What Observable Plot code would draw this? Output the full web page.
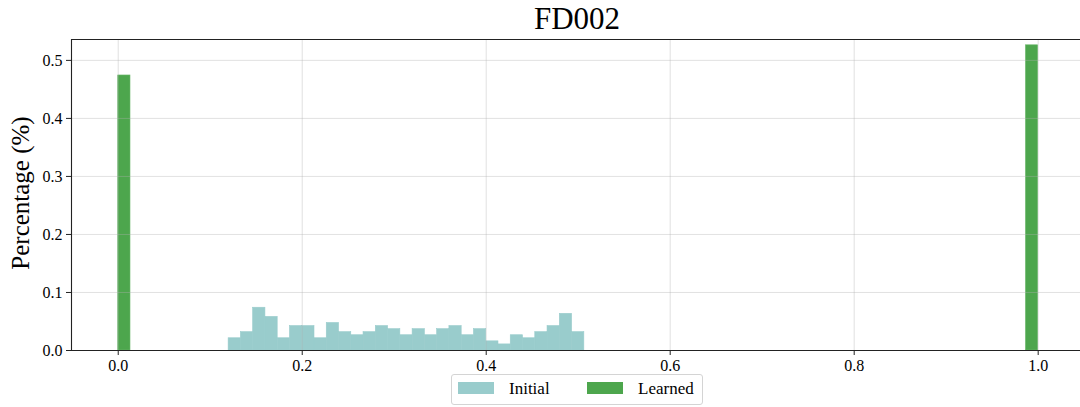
<!DOCTYPE html>
<html>
<head>
<meta charset="utf-8">
<script src="https://cdn.jsdelivr.net/npm/d3@7"></script>
<script src="https://cdn.jsdelivr.net/npm/@observablehq/plot@0.6"></script>
<style>
  body { margin: 0; background: #fff; }
  #chart { position: relative; width: 1080px; height: 407px; overflow: hidden;
           font-family: "Liberation Serif", "Times New Roman", serif; color: #000; }
  #chart svg { position: absolute; left: 0; top: 0; }
  #title { position: absolute; left: 427px; width: 300px; top: 3px; text-align: center;
           font-size: 31px; line-height: 31px; }
  #legend { position: absolute; left: 451px; top: 374px; width: 250px; height: 29px;
            border: 1px solid #d4d4d4; border-radius: 3px; background: #fff; }
  #legend .sw { position: absolute; top: 7px; width: 36px; height: 12px; }
  #legend .lb { position: absolute; top: 5px; font-size: 17px; line-height: 17px; white-space: nowrap; }
</style>
</head>
<body>
<div id="chart">
  <div id="title">FD002</div>
  <div id="legend"></div>
</div>
<script>
// Histogram bins share a common width of 1/75 on [0, 1]
const binWidth = 1 / 75;

// Initial distribution: 29 bins starting at 0.12 (share of samples per bin)
const initialStart = 0.12;
const initialShares = [
  0.0211, 0.0316, 0.0737, 0.0579, 0.0211, 0.0421, 0.0421, 0.0211, 0.0474, 0.0316,
  0.0263, 0.0316, 0.0421, 0.0368, 0.0263, 0.0368, 0.0263, 0.0368, 0.0421, 0.0263,
  0.0368, 0.0158, 0.0105, 0.0263, 0.0211, 0.0316, 0.0421, 0.0632, 0.0316
];

// Learned distribution: all mass in the first and last bins
const learnedStarts = [0, 74 / 75];
const learnedShares = [0.474, 0.526];

const seriesNames = ["Initial", "Learned"];
const seriesColors = ["#99cccc", "#4da64d"];

const xTicks = [0, 0.2, 0.4, 0.6, 0.8, 1.0];
const yTicks = [0, 0.1, 0.2, 0.3, 0.4, 0.5];
const xDomain = [-0.0508, 1.046];
const yDomain = [0, 0.536];

const initialBins = initialShares.map((s, i) => ({
  x1: initialStart + i * binWidth, x2: initialStart + (i + 1) * binWidth, share: s
}));
const learnedBins = learnedShares.map((s, i) => ({
  x1: learnedStarts[i], x2: learnedStarts[i] + binWidth, share: s
}));

const gridStyle = { stroke: "#b0b0b0", strokeOpacity: 0.42, strokeWidth: 0.9 };
const spine = { stroke: "#222", strokeWidth: 1.1 };

const chart = Plot.plot({
  width: 1080,
  height: 407,
  marginTop: 39,
  marginBottom: 57,
  marginLeft: 71,
  marginRight: 0,
  style: { fontFamily: '"Liberation Serif", "Times New Roman", serif', color: "#000", background: "transparent", overflow: "visible" },
  x: { domain: xDomain },
  y: { domain: yDomain },
  marks: [
    Plot.rectY(initialBins, { x1: "x1", x2: "x2", y: "share", fill: seriesColors[0], stroke: seriesColors[0], strokeWidth: 0.6 }),
    Plot.rectY(learnedBins, { x1: "x1", x2: "x2", y: "share", fill: seriesColors[1], stroke: "#6cb86c", strokeWidth: 0.6 }),
    Plot.gridX(xTicks, gridStyle),
    Plot.gridY(yTicks, gridStyle),
    Plot.axisX(xTicks, { tickFormat: d => d.toFixed(1), tickSize: 5, tickPadding: 4, fontSize: 16, label: null, stroke: "#222" }),
    Plot.axisY(yTicks, { tickFormat: d => d.toFixed(1), tickSize: 5, tickPadding: 4, fontSize: 16, label: null, stroke: "#222" }),
    Plot.ruleY([yDomain[0]], spine),
    Plot.ruleY([yDomain[1]], spine),
    Plot.ruleX([xDomain[0]], spine),
    Plot.text(["Percentage (%)"], { frameAnchor: "left", dx: -43, dy: -2, rotate: -90, textAnchor: "middle", lineAnchor: "bottom", fontSize: 25, fill: "#000" })
  ]
});
document.getElementById("chart").prepend(chart);

// Legend below the axis
const legend = document.getElementById("legend");
const swatchLeft = [6, 135];
const labelLeft = [57, 186];
seriesNames.forEach((name, i) => {
  const sw = document.createElement("div");
  sw.className = "sw";
  sw.style.left = swatchLeft[i] + "px";
  sw.style.background = seriesColors[i];
  const lb = document.createElement("div");
  lb.className = "lb";
  lb.style.left = labelLeft[i] + "px";
  lb.textContent = name;
  legend.append(sw, lb);
});
</script>
</body>
</html>
